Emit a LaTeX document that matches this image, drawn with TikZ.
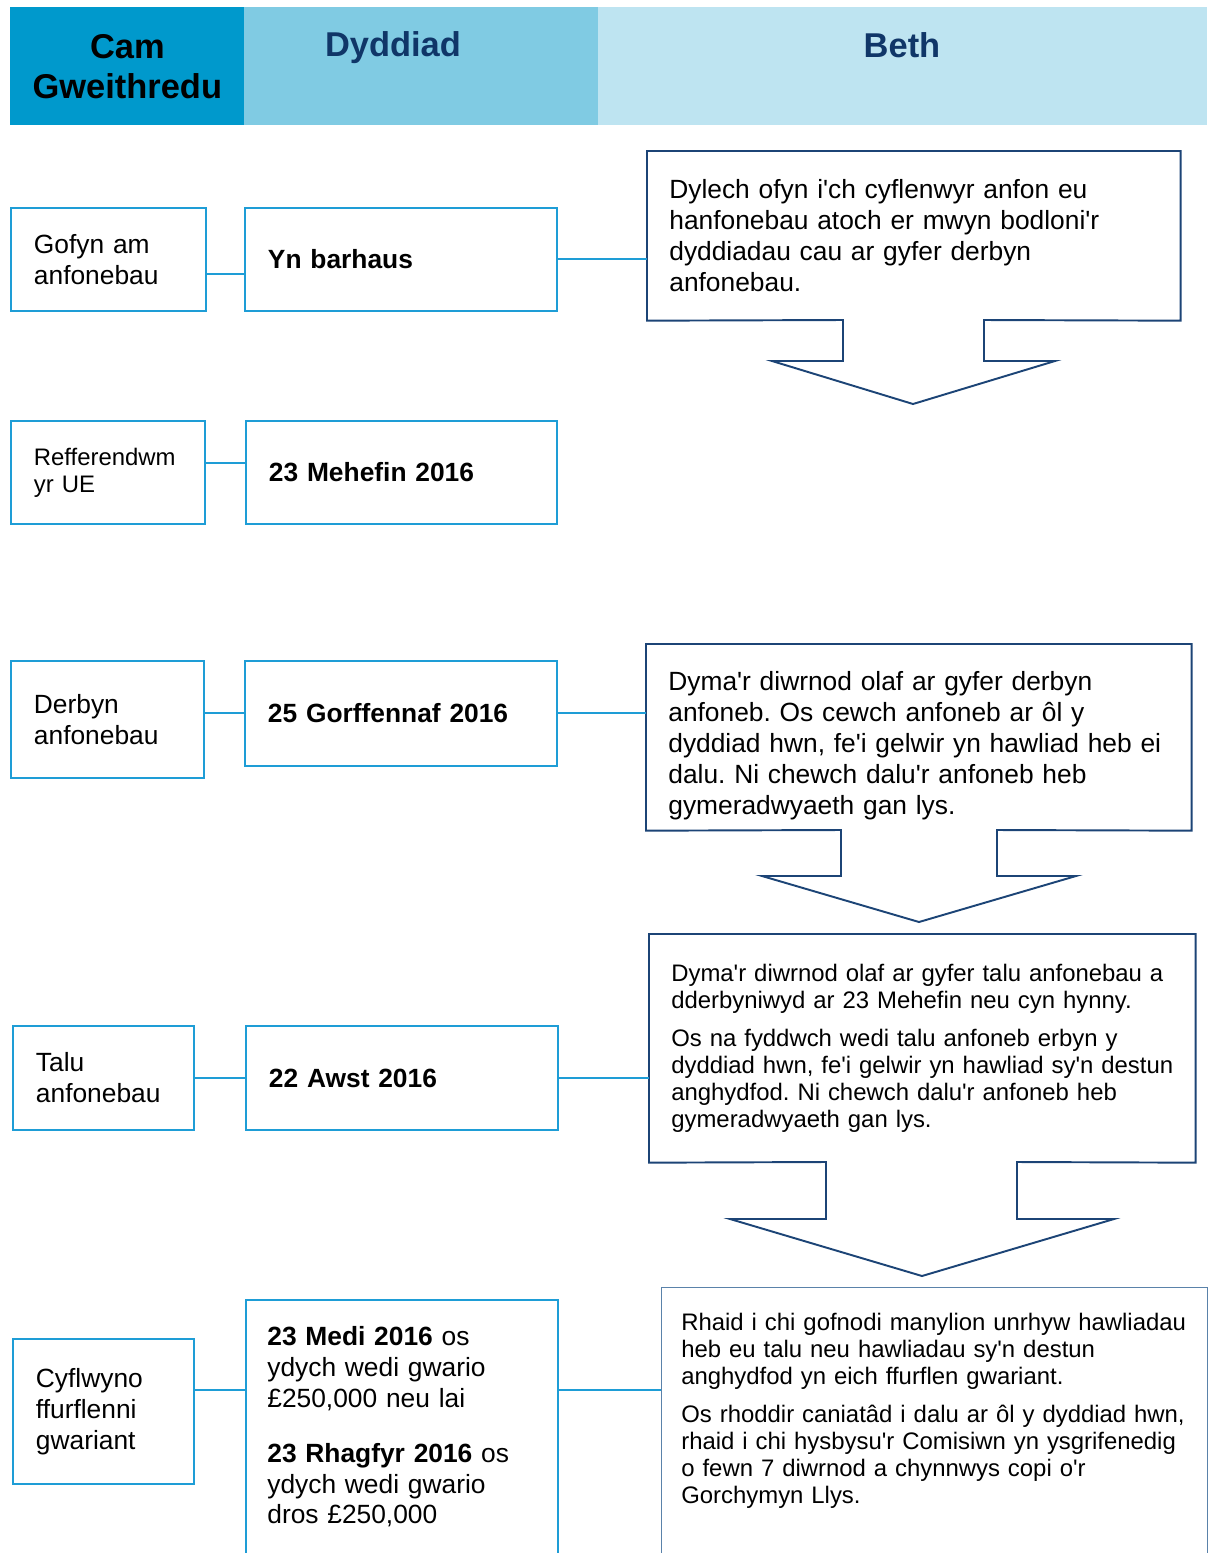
\documentclass[tikz,border=0pt]{standalone}
\usepackage{fontspec}
\setmainfont{Liberation Sans}[Ligatures=TeXOff]
\usepackage{xcolor}
\frenchspacing

\definecolor{camblue}{RGB}{0,153,204}
\definecolor{dyddblue}{RGB}{128,203,227}
\definecolor{bethblue}{RGB}{190,228,241}
\definecolor{headnavy}{RGB}{16,54,104}
\definecolor{boxline}{RGB}{30,157,214}
\definecolor{arrownavy}{RGB}{28,68,118}
\definecolor{noteline}{RGB}{90,130,170}

\newcommand{\stepfont}{\fontsize{15}{17.6}\selectfont}
\newcommand{\notefont}{\fontsize{13.6}{15.4}\selectfont}
\newcommand{\topfont}{\fontsize{19.6}{22.7}\selectfont\bfseries}

\begin{document}
\frenchspacing
\begin{tikzpicture}[x=0.02cm,y=-0.02cm,
        headcell/.style={anchor=north west,inner sep=0pt,align=center,font=\topfont},
        stepbox/.style={draw=boxline,line width=1.1pt,anchor=north west,inner xsep=0.46cm,inner ysep=0pt,align=left,font=\stepfont},
        datebox/.style={stepbox,font=\stepfont\bfseries},
        callbox/.style={anchor=north west,inner xsep=0.44cm,inner ysep=0pt,align=left,font=\stepfont},
        callout/.style={draw=arrownavy,line width=1.1pt,line join=miter},
        link/.style={draw=boxline,line width=1.1pt}]
                \useasboundingbox (0,0) rectangle (1209,1553);
                \clip (0,0) rectangle (1209,1553);

                % header
                \node[headcell,fill=camblue,minimum width=4.68cm,minimum height=2.36cm] (cam) at (10,7) {Cam\\Gweithredu};
                \node[headcell,fill=dyddblue,minimum width=7.08cm,minimum height=2.36cm] (dydd) at (244,7) {};
                \node[headcell,fill=bethblue,minimum width=12.18cm,minimum height=2.36cm] (beth) at (598,7) {};
                \node[font=\topfont,text=headnavy] (dyddiad) at (393,48) {Dyddiad};
                \node[font=\topfont,text=headnavy] (bethtext) at (902,45) {Beth};

                % cam gweithredu
                \node[stepbox,text width=2.98cm,minimum height=2.06cm] (gofyn) at (10,207) {Gofyn am\\anfonebau};
                \node[stepbox,text width=2.96cm,minimum height=2.06cm,font=\notefont] (reffer) at (10,420) {Refferendwm\\yr UE};
                \node[stepbox,text width=2.94cm,minimum height=2.34cm] (derbyn) at (10,660) {Derbyn\\anfonebau};
                \node[stepbox,text width=2.70cm,minimum height=2.08cm] (talu) at (12,1025) {Talu\\anfonebau};
                \node[stepbox,text width=2.70cm,minimum height=2.90cm] (cyflwyno) at (12,1338) {Cyflwyno\\ffurflenni\\gwariant};

                % dyddiad
                \node[datebox,text width=5.32cm,minimum height=2.06cm] (barhaus) at (244,207) {Yn barhaus};
                \node[datebox,text width=5.30cm,minimum height=2.06cm] (mehefin) at (245,420) {23 Mehefin 2016};
                \node[datebox,text width=5.32cm,minimum height=2.10cm] (gorffennaf) at (244,660) {25 Gorffennaf 2016};
                \node[datebox,text width=5.32cm,minimum height=2.08cm] (awst) at (245,1025) {22 Awst 2016};
                \node[stepbox,minimum width=6.24cm,minimum height=6cm] (medi) at (245,1299) {};
                \node[anchor=north west,inner sep=0pt,text width=5.6cm,align=left,font=\stepfont] (meditext) at (267,1326)
                    {\textbf{23 Medi 2016} os\\ydych wedi gwario\\£250,000 neu lai\\[13.6pt]
                     \textbf{23 Rhagfyr 2016} os\\ydych wedi gwario\\dros £250,000};

                % beth
                \node[callbox,text width=9.78cm,minimum height=3.38cm] (dylech) at (647,151)
                    {Dylech ofyn i'ch cyflenwyr anfon eu\\hanfonebau atoch er mwyn bodloni'r\\dyddiadau cau ar gyfer derbyn\\anfonebau.};
                \draw[callout] (dylech.north west) -- (dylech.north east) -- (dylech.south east) -- (984,320) -- (984,361) -- (1055,361)
                    -- (913,404) -- (772,361) -- (843,361) -- (843,320) -- (dylech.south west) -- cycle;

                \node[callbox,text width=10.02cm,minimum height=3.72cm] (dymaderbyn) at (646,644)
                    {\rule{0pt}{20pt}Dyma'r diwrnod olaf ar gyfer derbyn\\anfoneb. Os cewch anfoneb ar ôl y\\\mbox{dyddiad hwn, fe'i gelwir yn hawliad heb ei}\\dalu. Ni chewch dalu'r anfoneb heb\\gymeradwyaeth gan lys.};
                \draw[callout] (dymaderbyn.north west) -- (dymaderbyn.north east) -- (dymaderbyn.south east) -- (997,830) -- (997,876) -- (1076,876)
                    -- (919,922) -- (762,876) -- (841,876) -- (841,830) -- (dymaderbyn.south west) -- cycle;

                \node[callbox,text width=10.04cm,minimum height=4.56cm,font=\notefont] (dymatalu) at (649,934)
                    {\mbox{Dyma'r diwrnod olaf ar gyfer talu anfonebau a}\\dderbyniwyd ar 23 Mehefin neu cyn hynny.\\[6pt]
                     Os na fyddwch wedi talu anfoneb erbyn y\\\mbox{dyddiad hwn, fe'i gelwir yn hawliad sy'n destun}\\anghydfod. Ni chewch dalu'r anfoneb heb\\gymeradwyaeth gan lys.};
                \draw[callout] (dymatalu.north west) -- (dymatalu.north east) -- (dymatalu.south east) -- (1017,1162) -- (1017,1219) -- (1114,1219)
                    -- (922,1276) -- (730,1219) -- (826,1219) -- (826,1162) -- (dymatalu.south west) -- cycle;

                \node[draw=noteline,line width=0.6pt,anchor=north west,inner sep=0pt,minimum width=10.92cm,minimum height=6cm] (rhaid) at (661,1287) {};
                \node[anchor=north west,inner sep=0pt,text width=10.4cm,align=left,font=\notefont] (rhaidtext) at (681,1313)
                    {Rhaid i chi gofnodi manylion unrhyw hawliadau\\heb eu talu neu hawliadau sy'n destun\\anghydfod yn eich ffurflen gwariant.\\[6pt]
                     Os rhoddir caniatâd i dalu ar ôl y dyddiad hwn,\\rhaid i chi hysbysu'r Comisiwn yn ysgrifenedig\\o fewn 7 diwrnod a chynnwys copi o'r\\Gorchymyn Llys.};

                % cysylltiadau
                \draw[link] (gofyn.east |- 0,274) -- (barhaus.west |- 0,274);
                \draw[link] (barhaus.east) -- (barhaus.east -| dylech.west);
                \draw[link] (reffer.east |- 0,463) -- (mehefin.west |- 0,463);
                \draw[link] (derbyn.east |- 0,713) -- (gorffennaf.west |- 0,713);
                \draw[link] (gorffennaf.east |- 0,713) -- (dymaderbyn.west |- 0,713);
                \draw[link] (talu.east) -- (talu.east -| awst.west);
                \draw[link] (awst.east) -- (awst.east -| dymatalu.west);
                \draw[link] (cyflwyno.east |- 0,1390) -- (medi.west |- 0,1390);
                \draw[link] (medi.east |- 0,1390) -- (rhaid.west |- 0,1390);
            \end{tikzpicture}
\end{document}
